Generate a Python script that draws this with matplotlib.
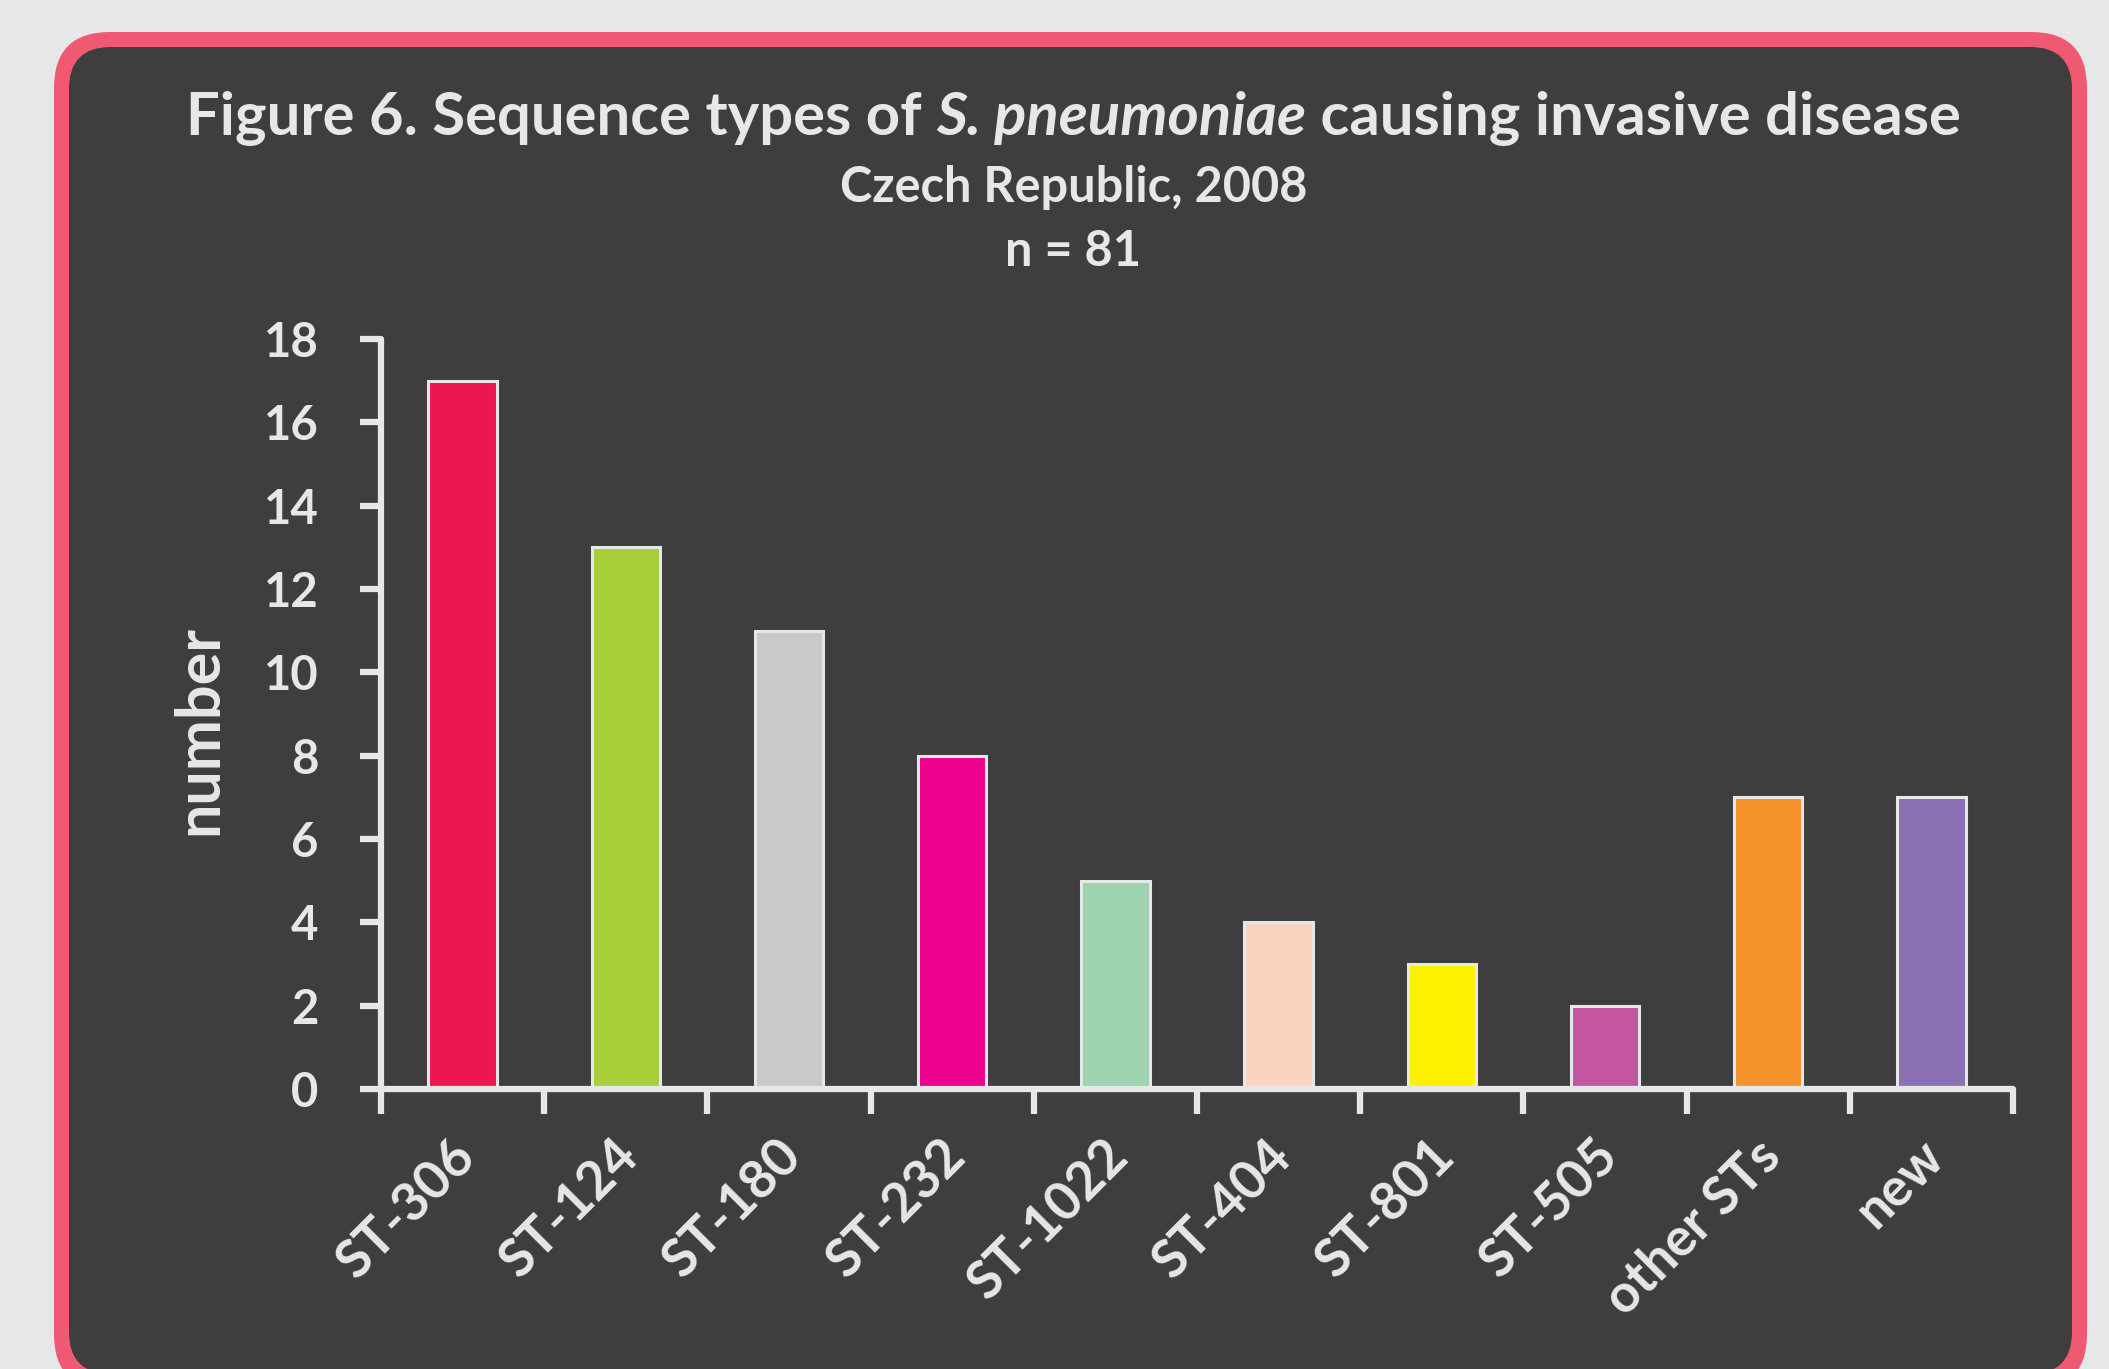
import matplotlib.pyplot as plt
from matplotlib.patches import FancyBboxPatch
from matplotlib.transforms import ScaledTranslation

# -----------------------
# Data
# -----------------------
categories = ["ST-306", "ST-124", "ST-180", "ST-232", "ST-1022",
              "ST-404", "ST-801", "ST-505", "other STs", "new"]
counts = [17, 13, 11, 8, 5, 4, 3, 2, 7, 7]
bar_colors = ["#EE1651", "#A8CF3A", "#C8C9CB", "#EC008C", "#9DD3AF",
              "#FCD3C1", "#FFF200", "#C4569F", "#F6932B", "#8A6FB1"]
y_ticks = [0, 2, 4, 6, 8, 10, 12, 14, 16, 18]

# -----------------------
# Style
# -----------------------
plt.rcParams["font.family"] = ["Lato", "DejaVu Sans"]
TXT = "#E6E7E8"
DARK = "#3E3E3E"
W, H = 2109, 1369

fig = plt.figure(figsize=(W / 100, H / 100), dpi=100)
fig.patch.set_facecolor("#E6E7E8")

# background panel drawn in pixel coords
bg = fig.add_axes([0, 0, 1, 1])
bg.set_xlim(0, W)
bg.set_ylim(H, 0)
bg.axis("off")
bg.add_patch(FancyBboxPatch((54, 32), 2087 - 54, 1390 - 32,
                            boxstyle="round,pad=0,rounding_size=56",
                            facecolor="#EF5A72", edgecolor="none"))
bg.add_patch(FancyBboxPatch((69, 47), 2072 - 69, 1374 - 47,
                            boxstyle="round,pad=0,rounding_size=42",
                            facecolor=DARK, edgecolor="none"))

# -----------------------
# Title (mixed bold / bold italic)
# -----------------------
def centered_segments(parts, xc, y, size):
    texts = []
    for s, style in parts:
        texts.append(fig.text(0, y, s, fontsize=size, fontweight="bold",
                              style=style, color=TXT, va="baseline"))
    fig.canvas.draw()
    r = fig.canvas.get_renderer()
    widths = [t.get_window_extent(r).width for t in texts]
    x = xc * W - sum(widths) / 2
    for t, w in zip(texts, widths):
        t.set_x(x / W)
        x += w

centered_segments([("Figure 6. Sequence types of ", "normal"),
                   ("S. pneumoniae", "italic"),
                   (" causing invasive disease", "normal")],
                  0.509, 1 - 135 / H, 43)

fig.text(0.509, 1 - 202 / H, "Czech Republic, 2008", fontsize=35,
         fontweight="bold", color=TXT, ha="center", va="baseline")
fig.text(0.509, 1 - 266 / H, "n = 81", fontsize=35,
         fontweight="bold", color=TXT, ha="center", va="baseline")

# -----------------------
# Bar chart
# -----------------------
ax = fig.add_axes([381 / W, 280 / H, (2013 - 381) / W, 750 / H])
ax.set_facecolor("none")
x = list(range(len(categories)))
ax.bar(x, counts, width=0.42, color=bar_colors, edgecolor=TXT, linewidth=2.2)

ax.set_xlim(-0.5, len(categories) - 0.5)
ax.set_ylim(0, 18)
ax.set_yticks(y_ticks)
ax.set_xticks(x)
ax.set_xticklabels(categories, rotation=45, ha="right", va="top",
                   rotation_mode="anchor")
ax.set_xticks([i - 0.5 for i in range(len(categories) + 1)], minor=True)

for side in ["top", "right"]:
    ax.spines[side].set_visible(False)
for side in ["left", "bottom"]:
    ax.spines[side].set_color(TXT)
    ax.spines[side].set_linewidth(4.5)
    ax.spines[side].set_capstyle("round")

ax.tick_params(axis="y", colors=TXT, length=15, width=4.5, labelsize=34,
               pad=30)
ax.tick_params(axis="x", which="major", length=0, labelsize=38, pad=30,
               labelcolor=TXT)
ax.tick_params(axis="x", which="minor", colors=TXT, length=18, width=4.5)
shift = ScaledTranslation(-9 / 72, 0, fig.dpi_scale_trans)
for lab in ax.get_xticklabels():
    lab.set_fontweight("bold")
    lab.set_transform(lab.get_transform() + shift)
for lab in ax.get_yticklabels():
    lab.set_fontweight("bold")
for line in ax.yaxis.get_ticklines() + ax.xaxis.get_ticklines(minor=True):
    line.set_solid_capstyle("round")

fig.text(199 / W, 1 - 730 / H, "number", fontsize=44, fontweight="bold",
         color=TXT, rotation=90, ha="center", va="center")

fig.savefig("out.png", dpi=100, facecolor=fig.get_facecolor())
